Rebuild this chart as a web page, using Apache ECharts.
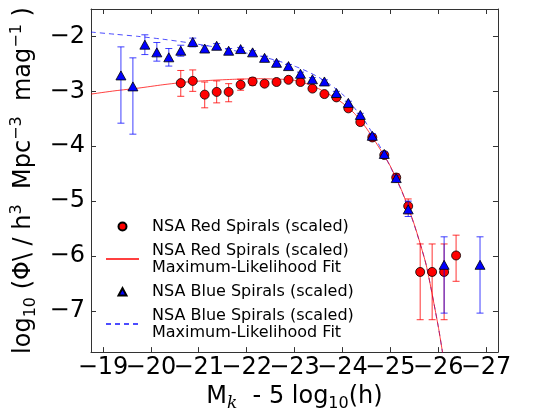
<!DOCTYPE html>
<html><head><meta charset="utf-8">
<script src="https://cdn.jsdelivr.net/npm/echarts@6/dist/echarts.min.js"></script>
<style>html,body{margin:0;padding:0;background:#fff}#c{width:552px;height:417px}</style>
</head><body><div id="c"></div>
<script>
// ---- data ----
const redX = [-20.625,-20.875,-21.125,-21.375,-21.625,-21.875,-22.125,-22.375,-22.625,-22.875,-23.125,-23.375,-23.625,-23.875,-24.125,-24.375,-24.625,-24.875,-25.125,-25.375,-25.625,-25.875,-26.125,-26.375];
const redY = [-2.85,-2.81,-3.06,-3.01,-3.01,-2.88,-2.82,-2.86,-2.83,-2.79,-2.83,-2.95,-3.05,-3.11,-3.31,-3.56,-3.84,-4.16,-4.57,-5.09,-6.29,-6.29,-6.29,-5.99];
const redHi = [-2.62,-2.61,-2.83,-2.81,-2.86,-2.78,-2.75,-2.81,-2.80,-2.76,-2.80,-2.92,-3.02,-3.08,-3.28,-3.53,-3.80,-4.11,-4.50,-4.96,-5.78,-5.78,-5.78,-5.62];
const redLo = [-3.09,-3.00,-3.30,-3.21,-3.19,-2.98,-2.89,-2.91,-2.87,-2.83,-2.87,-2.98,-3.08,-3.14,-3.34,-3.60,-3.88,-4.21,-4.64,-5.23,-7.16,-7.16,-7.16,-6.46];

const blueX = [-19.375,-19.625,-19.875,-20.125,-20.375,-20.625,-20.875,-21.125,-21.375,-21.625,-21.875,-22.125,-22.375,-22.625,-22.875,-23.125,-23.375,-23.625,-23.875,-24.125,-24.375,-24.625,-24.875,-25.125,-25.375,-26.125,-26.875];
const blueY = [-2.71,-2.91,-2.15,-2.29,-2.38,-2.26,-2.10,-2.22,-2.17,-2.26,-2.23,-2.29,-2.39,-2.48,-2.54,-2.68,-2.78,-2.82,-3.03,-3.21,-3.43,-3.81,-4.14,-4.58,-5.15,-6.16,-6.16];
const blueHi = [-2.19,-2.39,-1.97,-2.11,-2.22,-2.16,-2.03,-2.17,-2.13,-2.22,-2.20,-2.26,-2.36,-2.45,-2.51,-2.65,-2.75,-2.79,-3.00,-3.18,-3.40,-3.77,-4.10,-4.53,-5.00,-5.65,-5.65];
const blueLo = [-3.58,-3.78,-2.33,-2.45,-2.54,-2.36,-2.19,-2.27,-2.21,-2.30,-2.26,-2.32,-2.42,-2.51,-2.57,-2.71,-2.81,-2.85,-3.06,-3.24,-3.46,-3.85,-4.18,-4.63,-5.28,-7.04,-7.04];

const redFitX = [-18.75,-19.25,-19.75,-20.25,-20.75,-21.25,-21.75,-22.25,-22.75,-23.0,-23.25,-23.5,-23.75,-24.0,-24.25,-24.5,-24.75,-25.0,-25.25,-25.5,-25.75,-26.0,-26.1];
const redFitY = [-3.05,-2.99,-2.94,-2.88,-2.83,-2.80,-2.78,-2.77,-2.78,-2.80,-2.86,-2.95,-3.07,-3.21,-3.40,-3.67,-4.00,-4.36,-4.83,-5.42,-6.16,-7.27,-7.80];
const blueFitX = [-18.75,-19.25,-19.75,-20.25,-20.75,-21.25,-21.75,-22.25,-22.75,-23.0,-23.25,-23.5,-23.75,-24.0,-24.25,-24.5,-24.75,-25.0,-25.25,-25.5,-25.75,-26.0,-26.1];
const blueFitY = [-1.92,-1.96,-2.00,-2.05,-2.11,-2.18,-2.26,-2.35,-2.47,-2.54,-2.63,-2.74,-2.88,-3.05,-3.30,-3.58,-3.95,-4.37,-4.84,-5.43,-6.16,-7.27,-7.80];

const xTicks = [-19,-20,-21,-22,-23,-24,-25,-26,-27];
const yTicks = [-2,-3,-4,-5,-6,-7];

const redName = 'NSA Red Spirals (scaled)';
const redFitName = 'NSA Red Spirals (scaled)\nMaximum-Likelihood Fit';
const blueName = 'NSA Blue Spirals (scaled)';
const blueFitName = 'NSA Blue Spirals (scaled)\nMaximum-Likelihood Fit';

// ---- build ----
const FONT = 'DejaVu Sans';
const zip = (a, b) => a.map((v, i) => [v, b[i]]);
const zip3 = (a, b, c) => a.map((v, i) => [v, b[i], c[i]]);
function tickFmt(v) {
  const t = xTicks.concat(yTicks).find(k => Math.abs(k - v) < 1e-6);
  if (t === undefined) return '';
  return t < 0 ? '\u2212' + Math.abs(t) : String(t);
}
function errRender(color) {
  return function (params, api) {
    const x = api.value(0), lo = api.value(1), hi = api.value(2);
    const a = api.coord([x, lo]), b = api.coord([x, hi]);
    const w = 3.5;
    const style = { stroke: color, lineWidth: 1, fill: null };
    return { type: 'group', children: [
      { type: 'line', shape: { x1: a[0], y1: a[1], x2: b[0], y2: b[1] }, style },
      { type: 'line', shape: { x1: a[0] - w, y1: a[1], x2: a[0] + w, y2: a[1] }, style },
      { type: 'line', shape: { x1: b[0] - w, y1: b[1], x2: b[0] + w, y2: b[1] }, style }
    ]};
  };
}
const axisCommon = {
  type: 'value', splitLine: { show: false }, minInterval: 1, maxInterval: 1,
  axisLine: { show: true, onZero: false, lineStyle: { color: '#333', width: 1 } },
  axisTick: { show: true, inside: true, length: 5, lineStyle: { color: '#333', width: 1 } }
};
const labelStyle = { fontSize: 24, fontFamily: FONT, color: '#000', formatter: tickFmt };
const rich = {
  n: { fontSize: 24, fontFamily: FONT, color: '#000', lineHeight: 30 },
  s: { fontSize: 16, fontFamily: FONT, color: '#000', lineHeight: 12, verticalAlign: 'bottom' },
  k: { fontSize: 17, fontFamily: 'DejaVu Serif', fontStyle: 'italic', color: '#000', lineHeight: 12, verticalAlign: 'bottom' },
  p: { fontSize: 16, fontFamily: FONT, color: '#000', lineHeight: 12, verticalAlign: 'top' }
};

const chart = echarts.init(document.getElementById('c'), null, { renderer: 'canvas' });
chart.setOption({
  animation: false,
  backgroundColor: '#fff',
  grid: { left: 91, right: 14, top: 9, bottom: 62, containLabel: false },
  xAxis: [
    Object.assign({}, axisCommon, {
      min: -27.25, max: -18.75, inverse: true, position: 'bottom',
      axisLabel: Object.assign({ margin: 4 }, labelStyle),
      name: '{n|M}{k|k}{n|  - 5 log}{s|10}{n|(h)}',
      nameLocation: 'middle', nameGap: 29,
      nameTextStyle: { rich: rich }
    }),
    Object.assign({}, axisCommon, {
      min: -27.25, max: -18.75, inverse: true, position: 'top',
      axisLabel: { show: false }
    })
  ],
  yAxis: [
    Object.assign({}, axisCommon, {
      min: -7.75, max: -1.5, position: 'left',
      axisLabel: Object.assign({ margin: 6 }, labelStyle),
      name: '{n|log}{s|10}{n| (\u03A6\\ / h}{p|3}{n|  Mpc}{p|\u22123}{n|  mag}{p|\u22121}{n| )}',
      nameLocation: 'middle', nameRotate: 90, nameGap: 52,
      nameTextStyle: { rich: rich }
    }),
    Object.assign({}, axisCommon, {
      min: -7.75, max: -1.5, position: 'right',
      axisLabel: { show: false }
    })
  ],
  legend: {
    orient: 'vertical', left: 100, top: 213, padding: 5,
    itemWidth: 33, itemHeight: 8, itemGap: 7, selectedMode: false,
    textStyle: { fontSize: 16, fontFamily: FONT, color: '#000', lineHeight: 17, padding: [0, 0, 0, 8] },
    data: [
      { name: redName, icon: 'circle' },
      { name: redFitName, itemStyle: { opacity: 0, color: 'rgba(0,0,0,0)', borderWidth: 0 } },
      { name: blueName, icon: 'path://M0,0 M33,8 M12.5,8 L16.5,0.5 L20.5,8 Z' },
      { name: blueFitName, itemStyle: { opacity: 0, color: 'rgba(0,0,0,0)', borderWidth: 0 } }
    ]
  },
  series: [
    { name: blueFitName, type: 'line', data: zip(blueFitX, blueFitY), symbol: 'none', smooth: 0.2, z: 2,
      lineStyle: { color: '#0000ff', width: 1, type: [5, 4], opacity: 0.7 }, itemStyle: { color: '#0000ff' } },
    { name: redFitName, type: 'line', data: zip(redFitX, redFitY), symbol: 'none', smooth: 0.2, z: 2,
      lineStyle: { color: '#ff0000', width: 1, opacity: 0.75 }, itemStyle: { color: '#ff0000' } },
    { name: 'redErr', type: 'custom', renderItem: errRender('rgba(255,0,0,0.8)'), data: zip3(redX, redLo, redHi),
      encode: { x: 0, y: [1, 2] }, z: 3 },
    { name: redName, type: 'scatter', data: zip(redX, redY), symbol: 'circle', symbolSize: 9, z: 4,
      itemStyle: { color: '#ff0000', borderColor: '#000', borderWidth: 0.8, opacity: 1 } },
    { name: 'blueErr', type: 'custom', renderItem: errRender('rgba(0,0,255,0.75)'), data: zip3(blueX, blueLo, blueHi),
      encode: { x: 0, y: [1, 2] }, z: 5 },
    { name: blueName, type: 'scatter', data: zip(blueX, blueY), symbol: 'triangle', symbolSize: [10, 9], z: 6,
      itemStyle: { color: '#0000ff', borderColor: '#000', borderWidth: 0.8, opacity: 1 } }
  ]
});
</script>
</body></html>
